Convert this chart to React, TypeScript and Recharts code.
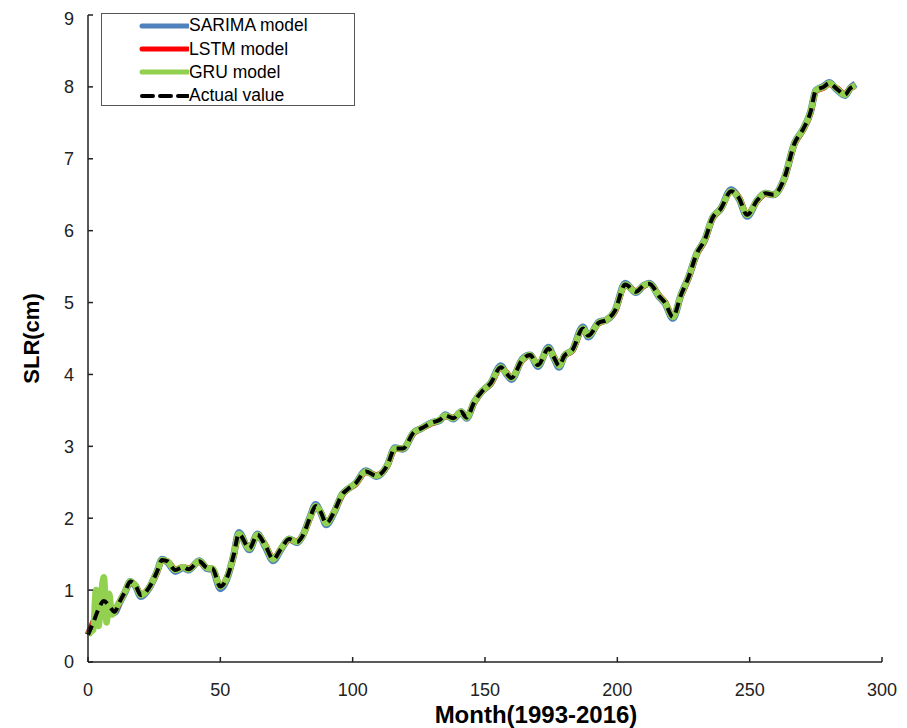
import React from 'react';
import { LineChart, Line, XAxis, YAxis, Legend } from 'recharts';

const months = [
  0, 2, 4, 6, 8, 10, 12, 14, 16, 18, 20, 23, 26, 28, 30, 33, 36, 38, 42, 45, 47, 50, 53, 55, 57, 61, 64, 67, 70,
  73, 76, 79, 81, 84, 86, 88, 90, 93, 96, 98, 101, 105, 109, 113, 116, 119, 123, 126, 130, 133, 135, 138, 141,
  143, 146, 149, 152, 156, 158, 160, 164, 167, 170, 174, 176, 178, 180, 183, 187, 189, 193, 196, 199, 203, 207,
  210, 212, 216, 218, 221, 224, 227, 230, 233, 236, 239, 243, 246, 249, 253, 256, 259, 263, 267, 270, 273, 275,
  278, 280, 283, 286, 288, 290,
];

const actual = [
  0.38, 0.55, 0.74, 0.85, 0.78, 0.7, 0.84, 0.98, 1.12, 1.06, 0.93, 1.03, 1.25, 1.42, 1.4, 1.28, 1.32, 1.29, 1.4,
  1.31, 1.3, 1.05, 1.22, 1.48, 1.78, 1.58, 1.77, 1.62, 1.43, 1.58, 1.71, 1.67, 1.75, 2.02, 2.17, 2.08, 1.93, 2.09,
  2.33, 2.4, 2.48, 2.65, 2.59, 2.73, 2.97, 2.97, 3.19, 3.25, 3.33, 3.37, 3.43, 3.39, 3.48, 3.4, 3.62, 3.77, 3.87,
  4.1, 4.02, 3.95, 4.2, 4.27, 4.13, 4.36, 4.24, 4.12, 4.26, 4.34, 4.64, 4.54, 4.72, 4.76, 4.88, 5.25, 5.15, 5.24,
  5.26, 5.08, 5.0, 4.8, 5.1, 5.36, 5.68, 5.87, 6.18, 6.3, 6.55, 6.45, 6.22, 6.43, 6.52, 6.5, 6.72, 7.22, 7.4,
  7.65, 7.95, 8.0, 8.05, 7.97, 7.89, 7.98, 8.02,
];

const sarima = [
  0.38, 0.54, 0.73, 0.84, 0.77, 0.69, 0.83, 0.97, 1.12, 1.05, 0.91, 1.02, 1.25, 1.43, 1.39, 1.26, 1.31, 1.28, 1.41,
  1.3, 1.29, 1.02, 1.21, 1.48, 1.8, 1.56, 1.78, 1.6, 1.41, 1.57, 1.71, 1.66, 1.75, 2.03, 2.19, 2.07, 1.91, 2.08,
  2.33, 2.4, 2.48, 2.66, 2.58, 2.73, 2.98, 2.96, 3.19, 3.25, 3.33, 3.36, 3.44, 3.38, 3.48, 3.39, 3.62, 3.77, 3.87,
  4.12, 4.01, 3.93, 4.21, 4.27, 4.11, 4.38, 4.23, 4.1, 4.26, 4.34, 4.66, 4.52, 4.73, 4.76, 4.88, 5.27, 5.14, 5.24,
  5.27, 5.07, 4.99, 4.78, 5.1, 5.36, 5.68, 5.87, 6.18, 6.3, 6.57, 6.44, 6.2, 6.43, 6.52, 6.5, 6.72, 7.22, 7.4,
  7.65, 7.95, 8.01, 8.06, 7.96, 7.88, 7.98, 8.04,
];

const lstm = [
  0.38, 0.55, 0.75, 0.85, 0.79, 0.71, 0.84, 0.98, 1.11, 1.06, 0.94, 1.03, 1.24, 1.41, 1.4, 1.29, 1.32, 1.3, 1.39,
  1.31, 1.3, 1.06, 1.22, 1.47, 1.77, 1.59, 1.76, 1.63, 1.44, 1.58, 1.7, 1.68, 1.75, 2.01, 2.16, 2.08, 1.94, 2.09,
  2.32, 2.4, 2.47, 2.64, 2.6, 2.72, 2.96, 2.97, 3.18, 3.25, 3.32, 3.37, 3.42, 3.4, 3.47, 3.41, 3.61, 3.77, 3.86,
  4.09, 4.03, 3.96, 4.19, 4.27, 4.14, 4.35, 4.25, 4.13, 4.26, 4.33, 4.63, 4.55, 4.71, 4.76, 4.87, 5.24, 5.16, 5.23,
  5.26, 5.09, 5.01, 4.81, 5.09, 5.35, 5.67, 5.86, 6.17, 6.3, 6.54, 6.46, 6.23, 6.42, 6.51, 6.5, 6.71, 7.21, 7.39,
  7.64, 7.94, 7.99, 8.04, 7.98, 7.9, 7.98, 8.01,
];

// GRU wobbles a lot over the first months, then follows the others
const gruStartMonths = [0, 1, 2, 3, 4, 5, 6, 7, 8, 9, 10, 11, 12];
const gruStart = [0.38, 0.42, 0.45, 1.0, 0.5, 0.95, 1.18, 0.55, 0.95, 0.66, 0.7, 0.78, 0.84];

const yTicks = [0, 1, 2, 3, 4, 5, 6, 7, 8, 9];
const xTicks = [0, 50, 100, 150, 200, 250, 300];

const toPoints = (ms: number[], vs: number[]) => ms.map((m, i) => ({ m, v: vs[i] }));

const actualData = toPoints(months, actual);
const sarimaData = toPoints(months, sarima);
const lstmData = toPoints(months, lstm);
const gruData = [
  ...toPoints(gruStartMonths, gruStart),
  ...toPoints(months, actual).filter((p) => p.m > 12),
];

const FONT = '"Liberation Sans", Arial, sans-serif';
const AXIS = '#222';

const legendRows = [
  { name: 'SARIMA model', color: '#4F81BD', dash: undefined, w: 5 },
  { name: 'LSTM model', color: '#FF0000', dash: undefined, w: 5 },
  { name: 'GRU model', color: '#92D050', dash: undefined, w: 5 },
  { name: 'Actual value', color: '#000', dash: '11 7', w: 4 },
];

function LegendBox() {
  return (
    <div
      style={{
        width: 252,
        height: 91,
        border: '1px solid #555',
        background: '#fff',
        fontFamily: FONT,
        fontSize: 17.5,
        color: '#000',
      }}
    >
      {legendRows.map((r) => (
        <div key={r.name} style={{ display: 'flex', alignItems: 'center', height: 23.4 }}>
          <svg width={87} height={10} style={{ flex: 'none' }}>
            <line
              x1={40}
              x2={86}
              y1={5}
              y2={5}
              stroke={r.color}
              strokeWidth={r.w}
              strokeLinecap="round"
              strokeDasharray={r.dash}
            />
          </svg>
          <span style={{ lineHeight: '23px' }}>{r.name}</span>
        </div>
      ))}
    </div>
  );
}

export default function App() {
  return (
    <div style={{ width: 891, height: 720, background: '#fff' }}>
      <LineChart width={891} height={720} margin={{ top: 7, right: 17, bottom: 0, left: 0 }}>
        <XAxis
          type="number"
          dataKey="m"
          domain={[0, 300]}
          ticks={xTicks}
          allowDuplicatedCategory={false}
          height={66}
          stroke={AXIS}
          strokeWidth={1.5}
          tickSize={-5}
          tickMargin={26}
          tick={{ fill: '#222', fontSize: 18, fontFamily: FONT }}
          label={{
            value: 'Month(1993-2016)',
            position: 'insideBottom',
            offset: 5,
            dx: 51,
            style: { fontFamily: FONT, fontSize: 24, fontWeight: 700, fill: '#000' },
          }}
        />
        <YAxis
          type="number"
          dataKey="v"
          domain={[0, 9]}
          ticks={yTicks}
          width={80}
          stroke={AXIS}
          strokeWidth={1.5}
          tickSize={-5}
          tickMargin={19}
          tick={{ fill: '#222', fontSize: 18, fontFamily: FONT }}
          label={{
            value: 'SLR(cm)',
            angle: -90,
            position: 'center',
            dx: -17,
            style: { fontFamily: FONT, fontSize: 22, fontWeight: 700, fill: '#000' },
          }}
        />
        <Legend
          layout="vertical"
          align="center"
          verticalAlign="middle"
          wrapperStyle={{ left: 93, top: 5, width: 254 }}
          content={() => <LegendBox />}
        />
        <Line
          data={sarimaData}
          dataKey="v"
          name="SARIMA model"
          type="monotone"
          stroke="#4F81BD"
          strokeWidth={7}
          dot={false}
          isAnimationActive={false}
        />
        <Line
          data={lstmData}
          dataKey="v"
          name="LSTM model"
          type="monotone"
          stroke="#FF0000"
          strokeWidth={6}
          dot={false}
          isAnimationActive={false}
        />
        <Line
          data={gruData}
          dataKey="v"
          name="GRU model"
          type="monotone"
          stroke="#92D050"
          strokeWidth={6.5}
          dot={false}
          isAnimationActive={false}
        />
        <Line
          data={actualData}
          dataKey="v"
          name="Actual value"
          type="monotone"
          stroke="#000"
          strokeWidth={4}
          strokeDasharray="10 6"
          dot={false}
          isAnimationActive={false}
        />
      </LineChart>
    </div>
  );
}
